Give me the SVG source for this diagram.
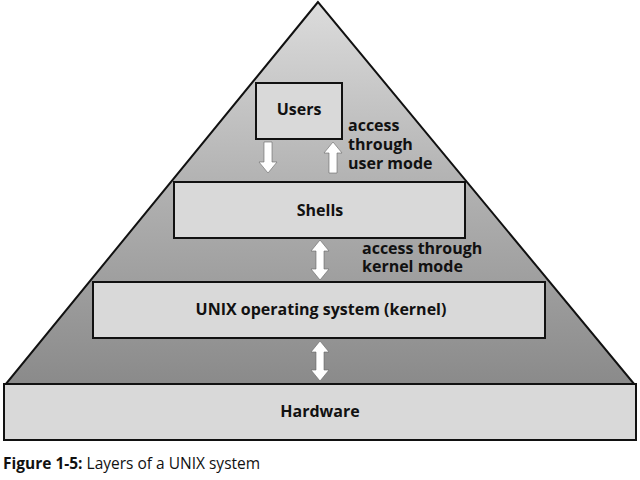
<svg xmlns="http://www.w3.org/2000/svg" width="640" height="480" viewBox="0 0 640 480">
<defs>
<linearGradient id="g" x1="0" y1="0" x2="0" y2="1">
<stop offset="0" stop-color="#dcdcdc"/>
<stop offset="0.45" stop-color="#b4b4b4"/>
<stop offset="1" stop-color="#8a8a8a"/>
</linearGradient>
<style>
.box{fill:#d9d9d9;stroke:#111;stroke-width:2}
.t{font-family:"Open Sans","Noto Sans",sans-serif;font-weight:bold;font-size:16px;fill:#111}
.c{text-anchor:middle}
.arr{fill:#fff;stroke:#666;stroke-width:0.6}
</style>
</defs>
<rect width="640" height="480" fill="#fff"/>
<g id="pyramid"><polygon points="318,2 5,385 635,385" fill="url(#g)" stroke="#111" stroke-width="2"/></g>
<g id="hardware"><rect class="box" x="4" y="384" width="632" height="56"/><text class="t c" x="320" y="417">Hardware</text></g>
<g id="kernel"><rect class="box" x="93" y="282" width="452" height="56"/><text class="t c" x="321" y="315">UNIX operating system (kernel)</text></g>
<g id="shells"><rect class="box" x="174" y="182" width="291" height="56"/><text class="t c" x="320" y="216">Shells</text></g>
<g id="users"><rect class="box" x="256" y="83" width="86" height="56"/><text class="t c" x="299" y="115">Users</text></g>
<g id="connectors">
<polygon class="arr" points="264,142 272,142 272,162 277,162 268,173 259,162 264,162"/>
<polygon class="arr" points="329,173 337,173 337,153 342,153 333,142 324,153 329,153"/>
<polygon class="arr" points="320,240 329,251 324,251 324,269 329,269 320,280 311,269 316,269 316,251 311,251"/>
<polygon class="arr" points="320,341 329,352 324,352 324,370 329,370 320,381 311,370 316,370 316,352 311,352"/>
</g>
<g id="labels">
<text class="t" x="348" y="131">access</text>
<text class="t" x="348" y="150">through</text>
<text class="t" x="348" y="169">user mode</text>
<text class="t" x="362" y="254">access through</text>
<text class="t" x="362" y="272">kernel mode</text>
</g>
<text x="3" y="469" font-family="'Open Sans','Noto Sans',sans-serif" font-size="15.5" fill="#111"><tspan font-weight="bold">Figure 1-5:</tspan> Layers of a UNIX system</text>
</svg>
